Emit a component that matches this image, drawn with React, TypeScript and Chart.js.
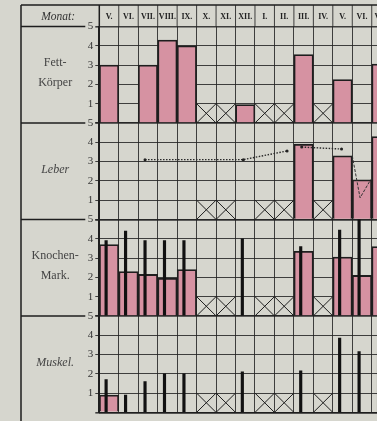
import React, { useEffect, useRef } from 'react';
import { Chart, registerables } from 'chart.js';

Chart.register(...registerables);

// ---------- data ----------
const months = ['V.', 'VI.', 'VII.', 'VIII.', 'IX.', 'X.', 'XI.', 'XII.', 'I.', 'II.', 'III.', 'IV.', 'V.', 'VI.', 'VII.'];
const noSample = [false, false, false, false, false, true, true, false, true, true, false, true, false, false, false];
const panelNames = [['Fett-', 'Körper'], ['Leber'], ['Knochen-', 'Mark.'], ['Muskel.']];
const panelItalic = [false, true, false, true];
const headerLabel = 'Monat:';

const fettBars = [3.0, null, 3.0, 4.3, 4.0, null, null, 0.95, null, null, 3.55, null, 2.25, null, 3.05];
const leberBars = [null, null, null, null, null, null, null, null, null, null, 3.9, null, 3.3, 2.05, 4.3];
const leberTrendX = [1.85, 6.9, 9.15, null, 9.9, 11.95];
const leberTrendY = [3.1, 3.1, 3.55, null, 3.75, 3.65];
const leberDipX = [12.5, 12.9, 13.45];
const leberDipY = [3.3, 1.12, 2.07];
const markBars = [3.7, 2.3, 2.15, 1.95, 2.4, null, null, null, null, null, 3.35, null, 3.05, 2.1, 3.6];
const markSpikes = [3.9, 4.4, 3.9, 3.9, 3.9, null, null, 4.0, null, null, 3.6, null, 4.45, 5.0, null];
const muskelBars = [0.9, null, null, null, null, null, null, null, null, null, null, null, null, null, null];
const muskelSpikes = [1.7, 0.9, 1.6, 2.0, 2.0, null, null, 2.1, null, null, 2.15, null, 3.85, 3.15, 3.15];

// ---------- styles ----------
const BG = '#d6d6ce';
const PINK = 'rgb(214,146,162)';
const INK = '#1e1e1e';
const GRID = 'rgba(35,35,35,0.85)';
const SERIF = '"Liberation Serif", "DejaVu Serif", serif';
const CANVAS_W = 400;
const CANVAS_H = 421;
const AXIS_W = 99.3;
const LEFT_BORDER = 21;
const HEADER_TOP = 5;
const SPIKE_SHIFT = -0.15;

const panelIds = ['y1', 'y2', 'y3', 'y4'];

function panelScale(weight: number) {
  return {
    type: 'linear',
    position: 'left',
    stack: 'panels',
    stackWeight: 1,
    weight,
    min: 0,
    max: 5,
    ticks: {
      stepSize: 1,
      autoSkip: false,
      padding: 2,
      color: '#333',
      font: { family: SERIF, size: 11 },
      callback: (v: number) => (v === 0 ? '' : String(v)),
    },
    grid: {
      color: GRID,
      lineWidth: (ctx: any) => (ctx.tick && (ctx.tick.value === 0 || ctx.tick.value === 5) ? 1.6 : 1),
      drawTicks: true,
      tickLength: 4,
    },
    border: { display: true, color: INK, width: 2 },
    afterFit: (s: any) => {
      s.width = AXIS_W;
    },
  };
}

function spikePoints(arr: (number | null)[]) {
  const pts: { x: number; y: number }[] = [];
  arr.forEach((v, i) => {
    if (v !== null) pts.push({ x: i + SPIKE_SHIFT, y: v });
  });
  return pts;
}

function segments(xs: (number | null)[], ys: (number | null)[]) {
  const out: { x: number; y: number }[][] = [];
  let cur: { x: number; y: number }[] = [];
  xs.forEach((x, i) => {
    const y = ys[i];
    if (x === null || y === null) {
      if (cur.length) out.push(cur);
      cur = [];
    } else cur.push({ x, y });
  });
  if (cur.length) out.push(cur);
  return out;
}

const barStyle = {
  type: 'bar',
  xAxisID: 'x',
  backgroundColor: PINK,
  borderColor: INK,
  borderWidth: 1.8,
  barPercentage: 1,
  categoryPercentage: 1,
  grouped: false,
  order: 2,
};

const spikeStyle = {
  type: 'bar',
  xAxisID: 'xl',
  backgroundColor: '#111',
  borderWidth: 0,
  barThickness: 2.5,
  grouped: false,
  order: 0,
};

const paperPlugin = {
  id: 'paper',
  beforeDraw(chart: any) {
    const { ctx, width, height } = chart;
    ctx.save();
    ctx.fillStyle = BG;
    ctx.fillRect(0, 0, width, height);
    ctx.restore();
  },
  afterDraw(chart: any) {
    const { ctx, chartArea: ca, width, height } = chart;
    const xs = chart.scales.x;
    const colW = (ca.right - ca.left) / months.length;
    ctx.save();
    ctx.strokeStyle = INK;
    ctx.lineWidth = 1.5;

    // header frame
    ctx.beginPath();
    ctx.moveTo(LEFT_BORDER, HEADER_TOP);
    ctx.lineTo(width, HEADER_TOP);
    ctx.moveTo(LEFT_BORDER, HEADER_TOP);
    ctx.lineTo(LEFT_BORDER, height);
    ctx.moveTo(ca.left, HEADER_TOP);
    ctx.lineTo(ca.left, ca.top);
    ctx.stroke();

    ctx.lineWidth = 1;
    ctx.strokeStyle = GRID;
    ctx.beginPath();
    for (let i = 0; i < months.length; i++) {
      const xr = xs.getPixelForValue(i) + colW / 2;
      ctx.moveTo(xr, HEADER_TOP);
      ctx.lineTo(xr, ca.top);
    }
    ctx.stroke();

    // month labels
    ctx.fillStyle = '#222';
    ctx.textAlign = 'center';
    ctx.textBaseline = 'middle';
    ctx.font = `bold 8px ${SERIF}`;
    const hy = (HEADER_TOP + ca.top) / 2 + 1;
    months.forEach((m, i) => ctx.fillText(m, xs.getPixelForValue(i), hy));

    ctx.font = `italic 11.5px ${SERIF}`;
    ctx.fillStyle = '#333';
    ctx.fillText(headerLabel, (LEFT_BORDER + ca.left) / 2 - 2, hy);

    // left table rows
    panelIds.forEach((id, p) => {
      const ys = chart.scales[id];
      const top = ys.getPixelForValue(5);
      const bot = ys.getPixelForValue(0);
      ctx.strokeStyle = INK;
      ctx.lineWidth = 1.5;
      ctx.beginPath();
      ctx.moveTo(LEFT_BORDER, top);
      ctx.lineTo(ca.left - 14, top);
      ctx.stroke();

      const names = panelNames[p];
      const mid = (top + bot) / 2 - (names.length > 1 ? 2 : 1);
      ctx.fillStyle = '#444';
      ctx.font = `${panelItalic[p] ? 'italic ' : ''}12px ${SERIF}`;
      names.forEach((n, k) => {
        ctx.fillText(n, (LEFT_BORDER + ca.left) / 2 - 5, mid + (k - (names.length - 1) / 2) * 20);
      });

      // crosses for months without sample
      ctx.strokeStyle = INK;
      ctx.lineWidth = 1;
      const y0 = ys.getPixelForValue(0);
      const y1 = ys.getPixelForValue(1);
      noSample.forEach((ns, i) => {
        if (!ns) return;
        const xc = xs.getPixelForValue(i);
        const xl = xc - colW / 2;
        const xr = xc + colW / 2;
        ctx.beginPath();
        ctx.moveTo(xl, y1);
        ctx.lineTo(xr, y0);
        ctx.moveTo(xr, y1);
        ctx.lineTo(xl, y0);
        ctx.stroke();
      });
    });
    ctx.restore();
  },
};

export default function App() {
  const ref = useRef<HTMLCanvasElement>(null);
  useEffect(() => {
    const trend = segments(leberTrendX, leberTrendY).map((pts) => ({
      type: 'line',
      xAxisID: 'xl',
      yAxisID: 'y2',
      data: pts,
      borderColor: '#2a2a2a',
      borderWidth: 1.4,
      borderDash: [1.5, 1.5],
      pointRadius: 1.5,
      pointBackgroundColor: '#222',
      pointBorderWidth: 0,
      fill: false,
      order: 0,
    }));
    const dip = segments(leberDipX, leberDipY).map((pts) => ({
      type: 'line',
      xAxisID: 'xl',
      yAxisID: 'y2',
      data: pts,
      borderColor: '#333',
      borderWidth: 1,
      borderDash: [3, 1.5],
      pointRadius: 0,
      fill: false,
      order: 0,
    }));
    const chart = new Chart(ref.current as HTMLCanvasElement, {
      type: 'bar',
      data: {
        labels: months,
        datasets: [
          { ...barStyle, yAxisID: 'y1', data: fettBars },
          { ...barStyle, yAxisID: 'y2', data: leberBars },
          { ...barStyle, yAxisID: 'y3', data: markBars },
          { ...barStyle, yAxisID: 'y4', data: muskelBars },
          { ...spikeStyle, yAxisID: 'y3', data: spikePoints(markSpikes) },
          { ...spikeStyle, yAxisID: 'y4', data: spikePoints(muskelSpikes) },
          ...trend,
          ...dip,
        ] as any,
      },
      options: {
        responsive: false,
        animation: false,
        events: [],
        layout: { padding: { top: 26.5, bottom: 2, left: 0, right: 8.8 } },
        plugins: { legend: { display: false }, tooltip: { enabled: false } },
        scales: {
          x: {
            type: 'category',
            position: 'bottom',
            offset: true,
            grid: { offset: true, color: GRID, lineWidth: 1, drawTicks: false },
            ticks: { display: false },
            border: { display: true, color: INK, width: 1.5 },
          },
          xl: {
            type: 'linear',
            position: 'bottom',
            min: -0.5,
            max: 14.5,
            offset: false,
            grid: { display: false, drawTicks: false },
            ticks: { display: false },
            border: { display: false },
          },
          y1: panelScale(4),
          y2: panelScale(3),
          y3: panelScale(2),
          y4: panelScale(1),
        } as any,
      },
      plugins: [paperPlugin],
    } as any);
    return () => chart.destroy();
  }, []);
  return (
    <div style={{ position: 'fixed', left: 0, top: 0, width: 377, height: 421, overflow: 'hidden', background: BG }}>
      <canvas ref={ref} width={CANVAS_W} height={CANVAS_H} style={{ display: 'block', width: CANVAS_W, height: CANVAS_H }} />
    </div>
  );
}
